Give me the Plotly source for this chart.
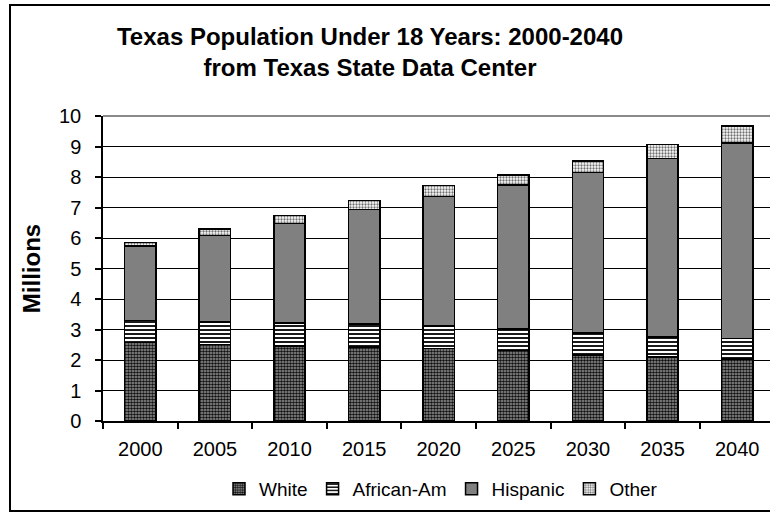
import plotly.graph_objects as go

# Population under 18, millions, by year and group
years = ["2000", "2005", "2010", "2015", "2020", "2025", "2030", "2035", "2040"]
white = [2.58, 2.51, 2.46, 2.43, 2.38, 2.31, 2.17, 2.10, 2.03]
african_am = [0.71, 0.74, 0.76, 0.75, 0.74, 0.71, 0.72, 0.66, 0.67]
hispanic = [2.45, 2.84, 3.26, 3.76, 4.24, 4.72, 5.26, 5.84, 6.42]
other = [0.12, 0.20, 0.26, 0.29, 0.36, 0.33, 0.38, 0.46, 0.55]
y_ticks = list(range(0, 11))

FONT = "Liberation Sans, Arial, sans-serif"
outline = dict(color="black", width=1.5)

series = [
    ("White", white, dict(color="#7a7a7a", line=outline,
                          pattern=dict(shape=".", fgcolor="#111111", bgcolor="#9c9c9c",
                                       size=3, solidity=0.6, fillmode="replace"))),
    ("African-Am", african_am, dict(color="white", line=outline,
                                    pattern=dict(shape="-", fgcolor="black", bgcolor="white",
                                                 size=4, solidity=0.45, fillmode="replace"))),
    ("Hispanic", hispanic, dict(color="#808080", line=outline)),
    ("Other", other, dict(color="white", line=outline,
                          pattern=dict(shape=".", fgcolor="#707070", bgcolor="white",
                                       size=3, solidity=0.45, fillmode="replace"))),
]

fig = go.Figure()
for name, vals, marker in series:
    fig.add_trace(go.Bar(x=years, y=vals, name=name, marker=marker, width=0.42))

fig.update_layout(
    barmode="stack",
    width=770, height=513,
    margin=dict(l=103, r=0, t=116, b=92, autoexpand=False),
    paper_bgcolor="white", plot_bgcolor="white",
    font=dict(family=FONT, size=20, color="black"),
    title=dict(
        text="<b>Texas Population Under 18 Years: 2000-2040<br>from Texas State Data Center</b>",
        x=370 / 770, xanchor="center", y=1 - 45 / 513, yanchor="middle",
        font=dict(size=24, family=FONT, color="black"),
    ),
    legend=dict(
        orientation="h", x=(441 - 103) / 667, xanchor="center",
        y=(421 - 489) / 305, yanchor="middle", font=dict(size=19, family=FONT),
        traceorder="normal", itemwidth=30, tracegroupgap=0,
    ),
    showlegend=True,
)

fig.update_xaxes(
    type="category", range=[-0.5, 8.44],
    showline=True, linecolor="black", linewidth=1.5,
    ticks="outside", tickson="boundaries", ticklen=6, tickcolor="black", tickwidth=1.5,
    showgrid=False, tickfont=dict(size=20), tickangle=0, ticklabelstandoff=9,
)
fig.update_yaxes(
    range=[0, 10], tickvals=y_ticks, ticktext=[str(v) for v in y_ticks],
    showline=True, linecolor="black", linewidth=1.5,
    ticks="outside", ticklen=6, tickcolor="black", tickwidth=1.5,
    showgrid=True, gridcolor="black", gridwidth=1,
    zeroline=False, tickfont=dict(size=20), ticklabelstandoff=10,
    title=dict(text="<b>Millions</b>", font=dict(size=24), standoff=12),
)

# Plot-area top edge, lighter than the gridlines
fig.add_shape(
    type="line", xref="paper", yref="paper", x0=0, x1=1, y0=1, y1=1,
    line=dict(color="#8a8a8a", width=2), layer="between",
)

# Frame around the whole chart
fig.add_shape(
    type="rect", xref="paper", yref="paper",
    x0=(10 - 103) / 667, x1=1.1, y0=(421 - 511) / 305, y1=(421 - 5) / 305,
    line=dict(color="black", width=2), fillcolor="rgba(0,0,0,0)", layer="above",
)

fig.write_html("out.html")
